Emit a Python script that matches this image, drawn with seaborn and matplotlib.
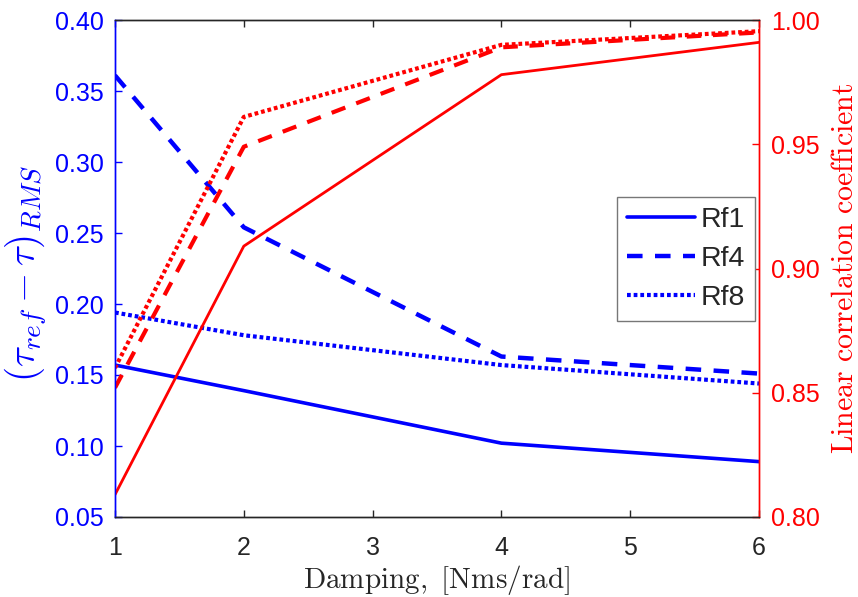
import numpy as np
import pandas as pd
import matplotlib
matplotlib.use("Agg")
import matplotlib.pyplot as plt
import seaborn as sns

# ---- data ----
damping = [1, 2, 4, 6]
rms_rf1 = [0.157, 0.139, 0.102, 0.089]
rms_rf4 = [0.361, 0.254, 0.163, 0.151]
rms_rf8 = [0.194, 0.178, 0.157, 0.144]
corr_rf1 = [0.809, 0.909, 0.978, 0.991]
corr_rf4 = [0.852, 0.949, 0.989, 0.995]
corr_rf8 = [0.860, 0.961, 0.990, 0.9955]
series_labels = ["Rf1", "Rf4", "Rf8"]
left_ticks = [0.05, 0.10, 0.15, 0.20, 0.25, 0.30, 0.35, 0.40]
right_ticks = [0.80, 0.85, 0.90, 0.95, 1.00]
x_ticks = [1, 2, 3, 4, 5, 6]

sns.set_style("white")
plt.rcParams["font.family"] = ["Liberation Sans", "DejaVu Sans"]
plt.rcParams["mathtext.fontset"] = "cm"

BLUE = (0, 0, 1)
RED = (1, 0, 0)
GRAY = "#262626"

fig = plt.figure(figsize=(8.58, 5.97), dpi=100)
ax = fig.add_axes([115 / 858, 80 / 597, 644 / 858, 497 / 597])
ax2 = ax.twinx()

styles = [
    dict(linestyle="-"),
    dict(linestyle=(0, (3.5, 2.8))),
    dict(linestyle=(0, (0.9, 0.7))),
]

blue_lw = [2.6, 3.2, 3.0]
for vals, lab, st, lw in zip([rms_rf1, rms_rf4, rms_rf8], series_labels, styles, blue_lw):
    sns.lineplot(x=damping, y=vals, ax=ax, color=BLUE, linewidth=lw,
                 label=lab, legend=False, **st)

red_lw = [2.0, 3.0, 3.0]
for vals, st, lw in zip([corr_rf1, corr_rf4, corr_rf8], styles, red_lw):
    sns.lineplot(x=damping, y=vals, ax=ax2, color=RED, linewidth=lw,
                 legend=False, **st)

ax.set_xlim(1, 6)
ax.set_ylim(0.05, 0.40)
ax2.set_ylim(0.80, 1.00)
ax.set_xticks(x_ticks)
ax.set_yticks(left_ticks)
ax2.set_yticks(right_ticks)
ax.set_yticklabels([f"{v:.2f}" for v in left_ticks])
ax2.set_yticklabels([f"{v:.2f}" for v in right_ticks])

for a in (ax, ax2):
    for s in a.spines.values():
        s.set_linewidth(1.0)
        s.set_visible(True)
    a.spines["top"].set_color(GRAY)
    a.spines["bottom"].set_color(GRAY)
    a.spines["left"].set_color(BLUE)
    a.spines["right"].set_color(RED)

ax.tick_params(axis="x", direction="in", top=True, bottom=True, length=5,
               width=1, colors=GRAY, labelsize=18, pad=14)
ax.tick_params(axis="y", direction="in", left=True, right=False, length=5,
               width=1, colors=BLUE, labelsize=18, pad=8)
ax2.tick_params(axis="y", direction="in", right=True, left=False, length=5,
                width=1, colors=RED, labelsize=18, pad=9)

ax.set_xlabel(r"$\mathrm{Damping,\ [Nms/rad]}$", fontsize=21, color=GRAY, labelpad=2)
ax.set_ylabel(r"$(\tau_{ref}-\tau)_{RMS}$", fontsize=28, color=BLUE)
ax2.set_ylabel(r"$\mathrm{Linear\ correlation\ coefficient}$", fontsize=21.5,
               color=RED)

ax.yaxis.set_label_coords((26 - 115) / 644, (517 - 273) / 497)
ax2.yaxis.set_label_coords((845 - 115) / 644, 0.5)
ax.yaxis.label.set_verticalalignment("center")
ax2.yaxis.label.set_verticalalignment("center")

handles = ax.get_lines()[:3]
leg = ax2.legend(handles, series_labels, loc="upper left",
                 bbox_to_anchor=((617 - 115) / 644, (517 - 197) / 497),
                 borderaxespad=0, fontsize=20.5, frameon=True, fancybox=False,
                 handlelength=2.4, handletextpad=0.2, labelspacing=0.46,
                 borderpad=0.35)
leg.get_frame().set_edgecolor("#777777")
leg.get_frame().set_linewidth(1.0)
leg.get_frame().set_facecolor("white")
leg.get_frame().set_alpha(1)

ax.set_facecolor("white")
fig.savefig("out.png", dpi=100)
